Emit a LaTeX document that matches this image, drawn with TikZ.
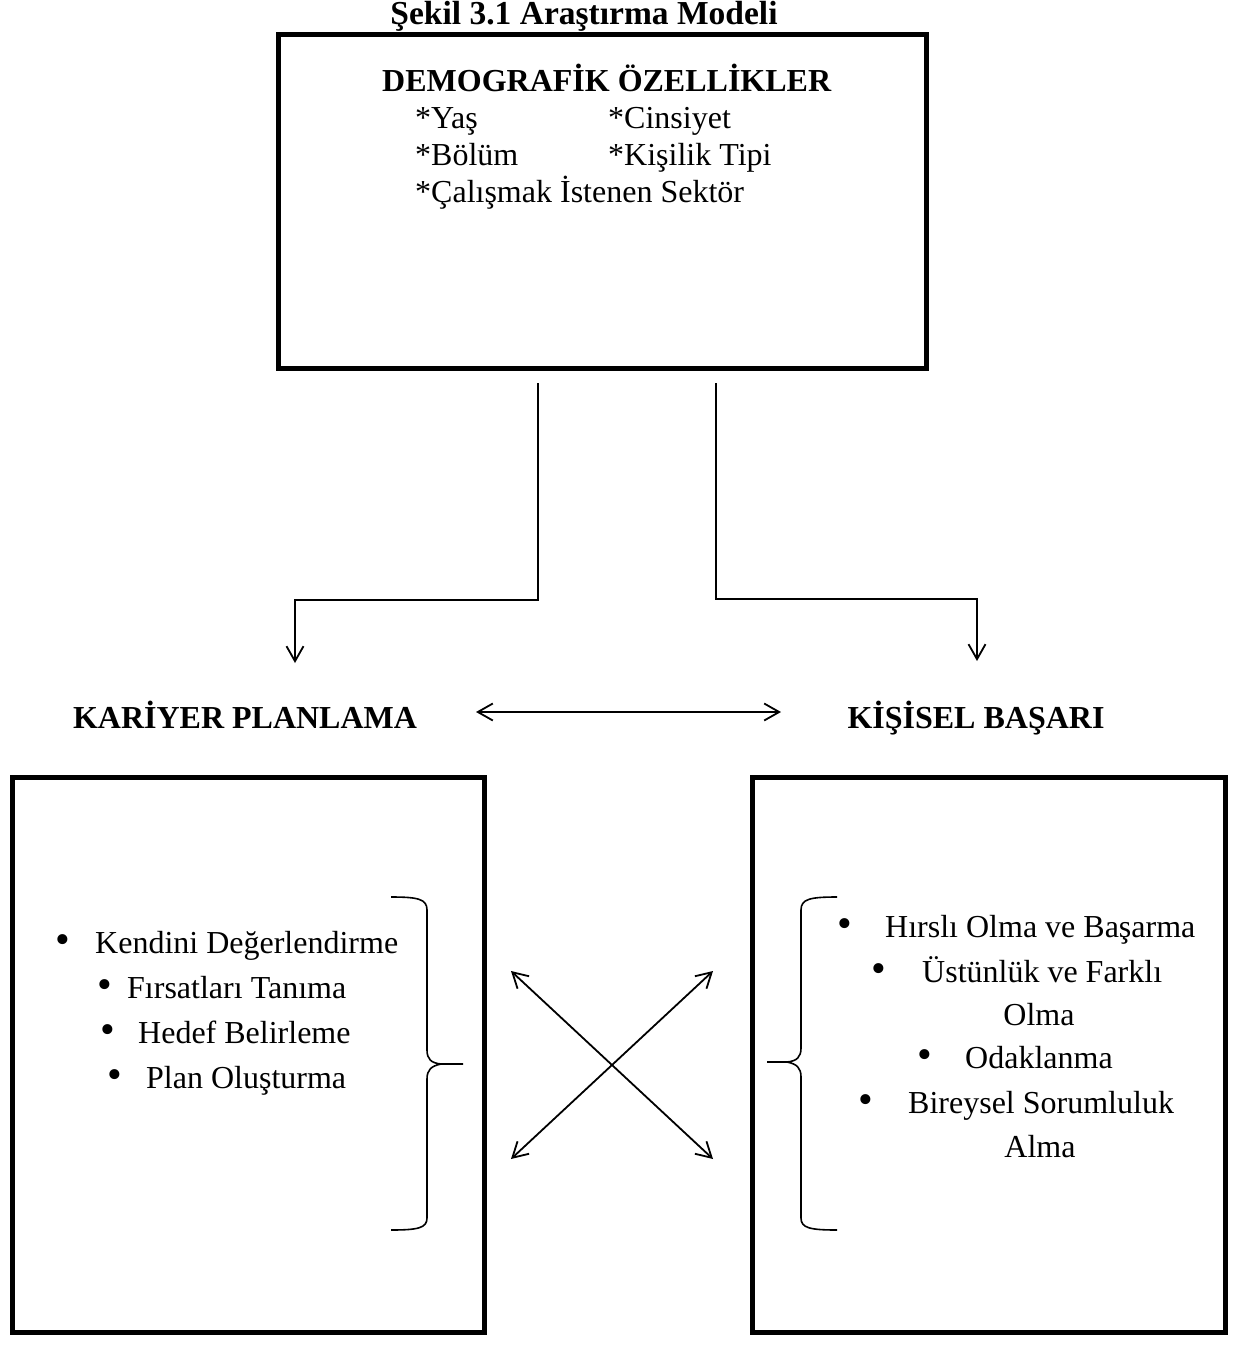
\documentclass[tikz,border=0pt]{standalone}
\usepackage{fontspec}
\setmainfont{Liberation Serif}
\usetikzlibrary{arrows.meta}
\newcommand\bodyf{\fontsize{32}{38}\selectfont}
\newcommand\boldf{\fontsize{32}{38}\selectfont\bfseries}
\newcommand\titlef{\fontsize{33.5}{40}\selectfont\bfseries}
\newcommand\bul[1]{\llap{{\fontsize{42}{42}\selectfont\textbullet}\hspace{#1pt}}}
\begin{document}
\begin{tikzpicture}[x=1pt,y=-1pt,
  thickbox/.style={draw, line width=5pt, inner sep=0pt},
  conn/.style={line width=1.8pt},
  barb/.style={-{Straight Barb[length=15pt,width=17pt,line width=1.8pt]}},
  dbarb/.style={{Straight Barb[length=15pt,width=17pt,line width=1.8pt]}-{Straight Barb[length=15pt,width=17pt,line width=1.8pt]}},
  brace/.style={line width=1.6pt, line join=round},
  txt/.style={inner sep=0pt, anchor=base west, font=\bodyf},
  btxt/.style={inner sep=0pt, anchor=base, font=\boldf},
  ctxt/.style={inner sep=0pt, anchor=base, font=\bodyf},
]
\useasboundingbox (0,0) rectangle (1241,1346);
\fill[white] (0,0) rectangle (1241,1346);

% title
\node[inner sep=0pt, anchor=base, font=\titlef] (title) at (584,25) {Şekil 3.1 Araştırma Modeli};

% top box
\node[thickbox, minimum width=648pt, minimum height=334pt] (demo) at (602.5,201.5) {};
\node[btxt, anchor=base west] (demoh) at (382,92) {DEMOGRAFİK ÖZELLİKLER};
\node[txt] (yas) at (415,128) {*Yaş};
\node[txt] (cins) at (608,128) {*Cinsiyet};
\node[txt] (bolum) at (415,165) {*Bölüm};
\node[txt] (kisi) at (608,165) {*Kişilik Tipi};
\node[txt] (sektor) at (415,202) {*Çalışmak İstenen Sektör};

% middle labels
\node[btxt] (kp) at (245,728) {KARİYER PLANLAMA};
\node[btxt] (kb) at (976,728) {KİŞİSEL BAŞARI};

% connectors from top box
\coordinate (ls) at (538,383);
\coordinate (le) at (295,663);
\coordinate (rs) at (716,383);
\coordinate (re) at (977,661);
\draw[conn, barb] (ls) -- (538,600) -- (295,600) -- (le);
\draw[conn, barb] (rs) -- (716,599) -- (977,599) -- (re);

% double arrow between labels
\coordinate (ha) at (476,712);
\coordinate (hb) at (781,712);
\draw[conn, dbarb] (ha) -- (hb);

% bottom boxes
\node[thickbox, minimum width=472pt, minimum height=555pt] (kbox) at (248.5,1055) {};
\node[thickbox, minimum width=473pt, minimum height=555pt] (bbox) at (989,1055) {};

% left items
\node[txt] (l1) at (95,953) {\bul{24.6}Kendini Değerlendirme};
\node[txt] (l2) at (127,998) {\bul{14.6}Fırsatları Tanıma};
\node[txt] (l3) at (138,1043) {\bul{22.6}Hedef Belirleme};
\node[txt] (l4) at (146,1088) {\bul{23.6}Plan Oluşturma};

% right items
\node[txt] (r1) at (885,937) {\bul{32.6}Hırslı Olma ve Başarma};
\node[txt] (r2) at (922,982) {\bul{35.6}Üstünlük ve Farklı};
\node[ctxt] (r2b) at (1039,1025) {Olma};
\node[txt] (r3) at (965,1068) {\bul{32.6}Odaklanma};
\node[txt] (r4) at (908,1113) {\bul{34.6}Bireysel Sorumluluk};
\node[ctxt] (r4b) at (1040,1157) {Alma};

% left brace
\draw[brace] (391,897) .. controls (418,897) and (427,899) .. (427,910)
  -- (427,1050) .. controls (427,1059) and (431,1063) .. (441,1064) -- (463,1064)
  (441,1064) .. controls (431,1066) and (427,1070) .. (427,1079)
  -- (427,1218) .. controls (427,1228) and (418,1230) .. (391,1230);

% right brace
\draw[brace] (837,897) .. controls (810,897) and (801,899) .. (801,910)
  -- (801,1048) .. controls (801,1057) and (797,1061) .. (787,1062) -- (767,1062)
  (787,1062) .. controls (797,1064) and (801,1068) .. (801,1077)
  -- (801,1218) .. controls (801,1228) and (810,1230) .. (837,1230);

% cross arrows
\coordinate (c1) at (511,971);
\coordinate (c2) at (713,1159);
\coordinate (c3) at (511,1159);
\coordinate (c4) at (713,971);
\draw[conn, dbarb] (c1) -- (c2);
\draw[conn, dbarb] (c3) -- (c4);
\end{tikzpicture}
\end{document}
